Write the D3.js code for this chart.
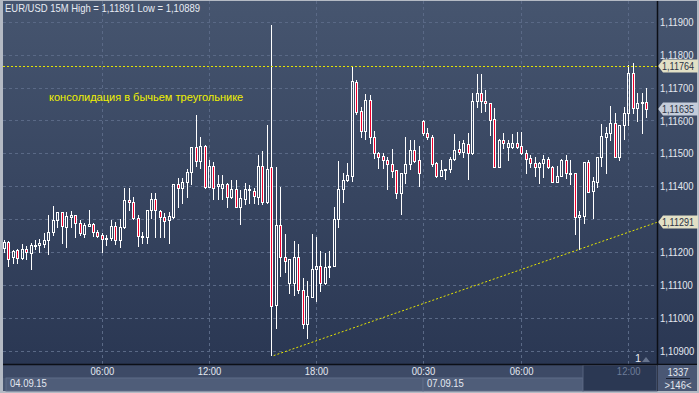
<!DOCTYPE html>
<html>
<head>
<meta charset="utf-8">
<script src="https://d3js.org/d3.v7.min.js"></script>
<style>
  body { margin: 0; background: #b4bac4; }
  svg { display: block; font-family: "Liberation Sans", Arial, sans-serif; }
</style>
</head>
<body>
<script>
// EUR/USD 15M candles, 04.09.15 - 07.09.15
const opens = [1.11213,1.11230,1.11185,1.11207,1.11182,1.11210,1.11197,1.11219,1.11222,1.11225,
  1.11237,1.11260,1.11298,1.11321,1.11278,1.11308,1.11313,1.11290,1.11255,1.11281,
  1.11285,1.11260,1.11252,1.11239,1.11242,1.11280,1.11237,1.11278,1.11359,1.11352,
  1.11305,1.11245,1.11247,1.11328,1.11362,1.11325,1.11308,1.11298,1.11308,1.11406,
  1.11394,1.11412,1.11445,1.11520,1.11478,1.11523,1.11397,1.11462,1.11401,1.11396,
  1.11406,1.11367,1.11392,1.11338,1.11362,1.11389,1.11387,1.11369,1.11463,1.11353,
  1.11459,1.11040,1.11283,1.11186,1.11107,1.11107,1.11185,1.11085,1.10982,1.11065,
  1.11149,1.11159,1.11107,1.11155,1.11159,1.11301,1.11392,1.11419,1.11432,1.11718,
  1.11629,1.11569,1.11662,1.11550,1.11501,1.11492,1.11480,1.11468,1.11450,1.11380,
  1.11441,1.11468,1.11510,1.11480,1.11599,1.11563,1.11549,1.11470,1.11432,1.11450,
  1.11452,1.11482,1.11513,1.11505,1.11528,1.11500,1.11660,1.11683,1.11660,1.11652,
  1.11604,1.11460,1.11541,1.11520,1.11520,1.11531,1.11523,1.11500,1.11485,1.11472,
  1.11458,1.11470,1.11482,1.11458,1.11414,1.11432,1.11480,1.11438,1.11440,1.11306,
  1.11311,1.11473,1.11387,1.11414,1.11488,1.11551,1.11563,1.11592,1.11490,1.11586,
  1.11622,1.11743,1.11637,1.11652,1.11657];
const highs = [1.11237,1.11234,1.11207,1.11209,1.11224,1.11220,1.11227,1.11237,1.11239,1.11259,
  1.11313,1.11340,1.11321,1.11323,1.11323,1.11325,1.11313,1.11298,1.11290,1.11328,
  1.11288,1.11267,1.11257,1.11252,1.11298,1.11293,1.11300,1.11394,1.11394,1.11367,
  1.11313,1.11262,1.11328,1.11379,1.11379,1.11328,1.11318,1.11323,1.11406,1.11424,
  1.11424,1.11452,1.11520,1.11617,1.11549,1.11526,1.11480,1.11475,1.11435,1.11435,
  1.11409,1.11419,1.11419,1.11389,1.11409,1.11404,1.11395,1.11495,1.11507,1.11586,
  1.11891,1.11459,1.11399,1.11255,1.11179,1.11234,1.11225,1.11122,1.11113,1.11255,
  1.11246,1.11205,1.11199,1.11205,1.11338,1.11477,1.11441,1.11471,1.11764,1.11723,
  1.11641,1.11681,1.11678,1.11568,1.11505,1.11502,1.11490,1.11513,1.11450,1.11442,
  1.11551,1.11541,1.11541,1.11523,1.11602,1.11577,1.11556,1.11475,1.11480,1.11452,
  1.11488,1.11559,1.11539,1.11541,1.11561,1.11683,1.11741,1.11741,1.11693,1.11652,
  1.11637,1.11543,1.11561,1.11541,1.11559,1.11566,1.11566,1.11510,1.11495,1.11490,
  1.11475,1.11495,1.11488,1.11462,1.11462,1.11482,1.11495,1.11480,1.11441,1.11326,
  1.11473,1.11480,1.11429,1.11488,1.11589,1.11581,1.11644,1.11622,1.11586,1.11642,
  1.11770,1.11774,1.11683,1.11683,1.11698];
const lows = [1.11201,1.11159,1.11166,1.11168,1.11179,1.11179,1.11148,1.11211,1.11202,1.11217,
  1.11195,1.11252,1.11278,1.11229,1.11215,1.11278,1.11247,1.11252,1.11247,1.11281,
  1.11249,1.11247,1.11200,1.11222,1.11237,1.11225,1.11217,1.11273,1.11328,1.11301,
  1.11220,1.11227,1.11227,1.11303,1.11247,1.11247,1.11247,1.11229,1.11305,1.11338,
  1.11350,1.11369,1.11407,1.11462,1.11455,1.11394,1.11397,1.11362,1.11361,1.11362,
  1.11338,1.11364,1.11336,1.11285,1.11346,1.11349,1.11350,1.11346,1.11346,1.11350,
  1.10889,1.10970,1.11128,1.11140,1.11077,1.11070,1.11077,1.10970,1.10940,1.11064,
  1.11053,1.11083,1.11103,1.11126,1.11157,1.11278,1.11353,1.11417,1.11417,1.11620,
  1.11551,1.11544,1.11533,1.11486,1.11457,1.11457,1.11392,1.11428,1.11365,1.11316,
  1.11411,1.11453,1.11475,1.11402,1.11556,1.11544,1.11462,1.11429,1.11431,1.11421,
  1.11445,1.11480,1.11498,1.11490,1.11421,1.11498,1.11640,1.11627,1.11630,1.11556,
  1.11458,1.11458,1.11516,1.11480,1.11517,1.11517,1.11498,1.11440,1.11460,1.11431,
  1.11409,1.11429,1.11455,1.11412,1.11412,1.11430,1.11424,1.11407,1.11255,1.11209,
  1.11288,1.11383,1.11303,1.11397,1.11462,1.11440,1.11541,1.11488,1.11480,1.11545,
  1.11586,1.11622,1.11599,1.11563,1.11612];
const closes = [1.11230,1.11179,1.11205,1.11182,1.11209,1.11201,1.11221,1.11223,1.11229,1.11236,
  1.11260,1.11298,1.11321,1.11280,1.11310,1.11313,1.11290,1.11259,1.11283,1.11285,
  1.11260,1.11250,1.11239,1.11243,1.11281,1.11237,1.11278,1.11359,1.11352,1.11305,
  1.11249,1.11249,1.11328,1.11362,1.11328,1.11306,1.11296,1.11310,1.11406,1.11394,
  1.11414,1.11445,1.11520,1.11478,1.11523,1.11397,1.11462,1.11394,1.11407,1.11406,
  1.11367,1.11392,1.11338,1.11364,1.11392,1.11392,1.11371,1.11462,1.11353,1.11453,
  1.11037,1.11283,1.11186,1.11174,1.11179,1.11185,1.11085,1.10982,1.11067,1.11149,
  1.11159,1.11107,1.11155,1.11159,1.11301,1.11392,1.11419,1.11435,1.11720,1.11627,
  1.11569,1.11662,1.11550,1.11501,1.11490,1.11480,1.11468,1.11448,1.11380,1.11441,
  1.11468,1.11510,1.11478,1.11441,1.11563,1.11549,1.11468,1.11432,1.11450,1.11452,
  1.11482,1.11510,1.11505,1.11531,1.11500,1.11660,1.11683,1.11660,1.11652,1.11602,
  1.11460,1.11541,1.11531,1.11533,1.11531,1.11520,1.11500,1.11484,1.11472,1.11458,
  1.11470,1.11482,1.11458,1.11414,1.11432,1.11480,1.11440,1.11440,1.11306,1.11313,
  1.11473,1.11384,1.11417,1.11488,1.11553,1.11563,1.11593,1.11490,1.11586,1.11622,
  1.11743,1.11637,1.11654,1.11657,1.11635];

const timeTickIdx = [22, 46, 70, 94, 116, 140];
const timeTickLabels = ["06:00", "12:00", "18:00", "00:30", "06:00", "12:00"];
const dateIdx = [0, 94];
const dateLabels = ["04.09.15", "07.09.15"];

const resistance = 1.11764;           // horizontal line
const trendStart = [60.5, 1.10886];   // [bar, price]
const trendEnd = [146.5, 1.11291];
const lastPrice = 1.11635;

const title = "EUR/USD 15M  High = 1,11891 Low = 1,10889";
const note = "консолидация в бычьем треугольнике";

const W = 699, H = 393;
const plotL = 3, plotR = 657, plotT = 1, plotB = 364;

const svg = d3.select("body").append("svg")
  .attr("width", W).attr("height", H);

// terminal font is narrower than Liberation Sans, squeeze texts a bit
function squeeze(sel, k) {
  sel.each(function () {
    const len = this.getComputedTextLength();
    d3.select(this).attr("textLength", len * k).attr("lengthAdjust", "spacingAndGlyphs");
  });
}

const defs = svg.append("defs");
const grad = defs.append("linearGradient").attr("id", "bg")
  .attr("x1", 0).attr("y1", 0).attr("x2", 0).attr("y2", 1);
grad.append("stop").attr("offset", "0%").attr("stop-color", "#46556f");
grad.append("stop").attr("offset", "100%").attr("stop-color", "#2a3753");
defs.append("clipPath").attr("id", "plotclip").append("rect")
  .attr("x", plotL).attr("y", plotT).attr("width", plotR - plotL).attr("height", plotB - plotT);

// frame + background
svg.append("rect").attr("width", W).attr("height", H).attr("fill", "#b4bac4");
svg.append("rect").attr("x", plotL).attr("y", plotT).attr("width", W - 2 - plotL).attr("height", plotB - plotT)
  .attr("fill", "url(#bg)");

const x = d3.scaleLinear().domain([0, 144]).range([3.8, 3.8 + 144 * 4.46]);
const y = d3.scaleLinear().domain([1.109, 1.119]).range([351, 21.7]);
const fmt = v => d3.format(".5f")(v).replace(".", ",");

// grid
const grid = svg.append("g").attr("clip-path", "url(#plotclip)")
  .attr("stroke", "#5a6986").attr("stroke-dasharray", "3,3").attr("stroke-width", 1);
grid.selectAll("line.h").data(y.ticks(10)).join("line")
  .attr("x1", plotL).attr("x2", plotR)
  .attr("y1", d => Math.round(y(d)) + 0.5).attr("y2", d => Math.round(y(d)) + 0.5);
grid.selectAll("line.v").data(timeTickIdx).join("line")
  .attr("y1", plotT).attr("y2", plotB)
  .attr("x1", d => Math.round(x(d)) + 0.5).attr("x2", d => Math.round(x(d)) + 0.5);

// candles
const bars = d3.range(opens.length).map(i => ({
  i, o: opens[i], h: highs[i], l: lows[i], c: closes[i]
}));
const cg = svg.append("g").attr("clip-path", "url(#plotclip)");
const cx = d => Math.round(x(d.i)) + 0.5;
const bodyTop = d => Math.round(y(Math.max(d.o, d.c))) + 0.5;
const bodyBot = d => Math.max(Math.round(y(Math.min(d.o, d.c))) + 0.5, bodyTop(d) + 1);

cg.selectAll("line.wh").data(bars).join("line")
  .attr("x1", cx).attr("x2", cx)
  .attr("y1", d => Math.round(y(d.h))).attr("y2", bodyTop)
  .attr("stroke", "#ffffff");
cg.selectAll("line.wl").data(bars).join("line")
  .attr("x1", cx).attr("x2", cx)
  .attr("y1", bodyBot).attr("y2", d => Math.round(y(d.l)) + 1)
  .attr("stroke", "#ffffff");
cg.selectAll("rect").data(bars).join("rect")
  .attr("x", d => cx(d) - 1).attr("width", 2)
  .attr("y", bodyTop).attr("height", d => bodyBot(d) - bodyTop(d))
  .attr("fill", d => d.c < d.o ? "#f0002c" : "none")
  .attr("stroke", "#ffffff").attr("stroke-width", 1);

// resistance and trend lines
const lines = svg.append("g").attr("clip-path", "url(#plotclip)")
  .attr("stroke", "#e6e600").attr("stroke-width", 1).attr("stroke-dasharray", "2,2").attr("fill", "none");
lines.append("line")
  .attr("x1", plotL).attr("x2", plotR)
  .attr("y1", Math.round(y(resistance)) + 0.5).attr("y2", Math.round(y(resistance)) + 0.5);
lines.append("line")
  .attr("x1", x(trendStart[0])).attr("y1", y(trendStart[1]))
  .attr("x2", x(trendEnd[0])).attr("y2", y(trendEnd[1]));

svg.append("text").attr("x", 49).attr("y", 101)
  .attr("fill", "#f0f000").attr("font-size", 11).text(note);

svg.append("text").attr("x", 5).attr("y", 12)
  .attr("fill", "#e8ecf4").attr("font-size", 11).text(title)
  .call(squeeze, 0.86);

// price tags (need them first to hide colliding axis labels)
const tags = [
  { p: resistance, fill: "#e2e0c6" },
  { p: lastPrice, fill: "#c4ccda" },
  { p: trendEnd[1], fill: "#e2e0c6" }
];

// price axis
const yTicks = y.ticks(10).filter(t => tags.every(g => Math.abs(y(t) - y(g.p)) > 9));
const ya = svg.append("g").attr("transform", `translate(${plotR},0)`)
  .call(d3.axisRight(y).tickValues(yTicks).tickFormat(fmt).tickSize(0).tickPadding(3));
ya.select(".domain").remove();
ya.selectAll("text").attr("fill", "#e4e8f0").attr("font-size", 11)
  .attr("font-family", "'Liberation Sans', Arial, sans-serif")
  .call(squeeze, 0.86);

const tg = svg.append("g").selectAll("g").data(tags).join("g")
  .attr("transform", d => `translate(${plotR + 1},${Math.round(y(d.p))})`);
tg.append("path")
  .attr("d", "M0,0 L5,-6.5 H40 V6.5 H5 Z")
  .attr("fill", d => d.fill);
tg.append("text").attr("x", 4).attr("y", 4)
  .attr("fill", "#2a3244").attr("font-size", 10.5).text(d => fmt(d.p))
  .call(squeeze, 0.86);

// separators
svg.append("line").attr("x1", plotR + 0.5).attr("x2", plotR + 0.5).attr("y1", plotT).attr("y2", H - 2)
  .attr("stroke", "#0c0f16").attr("stroke-width", 1.5);

// bottom time panel
svg.append("rect").attr("x", plotL).attr("y", plotB).attr("width", plotR - plotL).attr("height", 14)
  .attr("fill", "#3d4a66");
svg.append("rect").attr("x", plotL).attr("y", plotB + 14).attr("width", plotR - plotL).attr("height", H - 2 - plotB - 14)
  .attr("fill", "#475570");
svg.append("rect").attr("x", 6).attr("y", plotB + 14).attr("width", x(dateIdx[1]) - 6).attr("height", 13)
  .attr("fill", "#4f5d79").attr("stroke", "#5e6c88");
svg.append("rect").attr("x", x(dateIdx[1])).attr("y", plotB + 14).attr("width", 583 - x(dateIdx[1])).attr("height", 13)
  .attr("fill", "#4f5d79").attr("stroke", "#5e6c88");
svg.append("rect").attr("x", 583).attr("y", plotB + 1).attr("width", plotR - 583).attr("height", H - 3 - plotB)
  .attr("fill", "#2b3853").attr("stroke", "#56637e");
svg.append("line").attr("x1", plotL).attr("x2", W - 2).attr("y1", plotB + 0.5).attr("y2", plotB + 0.5)
  .attr("stroke", "#0c0f16").attr("stroke-width", 1.5);

const xa = svg.append("g").attr("transform", `translate(0,${plotB})`)
  .call(d3.axisBottom(x).tickValues(timeTickIdx).tickFormat((d, k) => timeTickLabels[k]).tickSize(0).tickPadding(3));
xa.select(".domain").remove();
xa.selectAll("text").attr("font-size", 11)
  .attr("font-family", "'Liberation Sans', Arial, sans-serif")
  .attr("fill", (d, k) => k === timeTickIdx.length - 1 ? "#6e7d99" : "#e4e8f0")
  .call(squeeze, 0.86);

svg.append("g").selectAll("text").data(dateLabels).join("text")
  .attr("x", (d, k) => k === 0 ? 10 : x(dateIdx[k]) + 4)
  .attr("y", 387).attr("font-size", 11).attr("fill", "#e4e8f0").text(d => d)
  .call(squeeze, 0.86);

// right-bottom corner box
svg.append("rect").attr("x", plotR + 1).attr("y", plotB + 1).attr("width", W - 3 - plotR).attr("height", H - 3 - plotB)
  .attr("fill", "#4a5774");
svg.append("text").attr("x", 678).attr("y", 376).attr("text-anchor", "middle")
  .attr("font-size", 11).attr("fill", "#e4e8f0").text("1337").call(squeeze, 0.86);
svg.append("line").attr("x1", 666).attr("x2", 690).attr("y1", 378.5).attr("y2", 378.5)
  .attr("stroke", "#1a2030");
svg.append("text").attr("x", 678).attr("y", 389).attr("text-anchor", "middle")
  .attr("font-size", 11).attr("fill", "#e4e8f0").text(">146<").call(squeeze, 0.86);

// shift marker
svg.append("text").attr("x", 635).attr("y", 362).attr("font-size", 11).attr("fill", "#e4e8f0").text("1");
svg.append("path").attr("d", "M642,362 L646,357 L650,362 Z").attr("fill", "#67748e");
</script>
</body>
</html>
